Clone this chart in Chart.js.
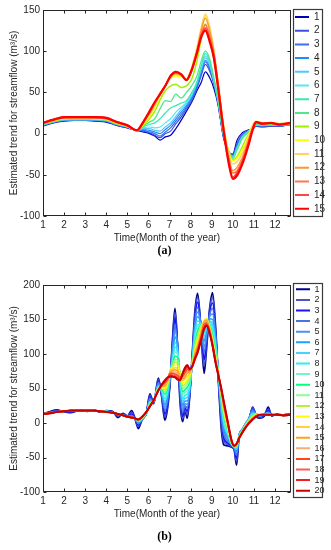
<!DOCTYPE html>
<html><head><meta charset="utf-8">
<script src="https://cdn.jsdelivr.net/npm/chart.js@4.4.1/dist/chart.umd.min.js"></script>
<style>
html,body{margin:0;padding:0;background:#fff;}
#wa{position:absolute;left:0;top:0;width:331px;height:262px;}
#wb{position:absolute;left:0;top:262px;width:331px;height:288px;}
canvas{display:block;}
</style></head><body>
<div id="wa"><canvas id="ca" width="331" height="262"></canvas></div>
<div id="wb"><canvas id="cb" width="331" height="288"></canvas></div>
<script>
// ---------- shared axis values ----------
const xTicks = [1,2,3,4,5,6,7,8,9,10,11,12];
const yTicksA = [-100,-50,0,50,100,150];
const yTicksB = [-100,-50,0,50,100,150,200];

// ---------- chart (a): 15 series ----------
const monthsA = [1,1.5,2,2.5,3,3.5,4,4.5,5,5.45,5.75,6.05,6.3,6.55,6.8,7.05,7.3,7.55,7.8,8.05,8.3,8.5,8.7,8.9,9.1,9.3,9.55,9.8,10.0,10.2,10.45,10.7,10.95,11.1,11.4,11.8,12.2,12.75];
const a1  = [9,13,15,16,16,15,14,10,7,4, 2,0,-3,-8,-4,-2,6,16,27,38,52,62,75, 68,55,35,-4,-22,-25,-8,1,4,6,9,8,9,9,11];
const a2  = [10,14,16,16,16,16,15,10,7,4, 3,1,-2,-5,0,3,12,20,30,40,55,70,84, 76,60,37,-3,-22,-26,-12,-1,3,6,9,9,9,9,11];
const a3  = [10,14,16,16,16,16,15,11,8,4, 4,2,0,-3,2,7,15,23,32,42,57,73,87, 79,62,38,-2,-21,-27,-14,-2,3,7,10,9,10,9,11];
const a4  = [10,14,16,17,17,16,15,11,8,4, 5,4,2,0,5,10,18,26,34,44,59,75,89, 81,63,39,-1,-21,-27,-16,-3,2,7,10,9,10,10,11];
const a5  = [11,14,17,17,17,17,16,11,8,4, 6,6,4,3,8,13,21,29,36,46,61,78,92, 84,64,40,0,-21,-28,-17,-4,2,7,10,10,10,10,11];
const a6  = [11,15,17,17,17,17,16,12,8,4, 7,8,7,8,13,18,26,32,38,48,63,80,94, 86,65,40,0,-21,-29,-18,-4,2,7,11,10,10,10,12];
const a7  = [11,15,17,18,18,17,16,12,8,4, 8,11,13,18,25,31,34,37,40,50,62,82,97, 88,66,41,1,-21,-30,-19,-5,1,7,11,10,10,10,12];
const a8  = [11,15,18,18,18,18,17,12,9,4, 9,14,18,30,40,39,48,43,50,58,70,88,100, 91,68,42,1,-21,-30,-20,-6,1,8,12,11,11,10,12];
const a9  = [12,15,18,18,18,18,17,12,9,4, 10,18,27,41,52,58,60,56,58,66,88,114,133, 116,92,57,8,-22,-32,-28,-16,-3,10,14,12,12,11,12];
const a10 = [12,16,18,19,19,18,17,13,9,4, 11,21,32,46,58,67,70,69,66,80,104,126,143, 128,100,62,12,-22,-33,-30,-20,-5,11,15,13,13,12,13];
const a11 = [12,16,19,19,19,19,18,13,9,4, 12,23,34,47,58,68,72,70,66,80,104,128,145, 130,102,63,12,-24,-37,-34,-24,-7,10,15,13,13,12,13];
const a12 = [12,16,19,19,19,19,18,13,9,4, 13,25,36,48,58,69,73,71,65,78,101,125,140, 125,99,61,10,-27,-45,-41,-29,-11,8,14,13,13,12,13];
const a13 = [13,17,19,20,20,19,18,14,10,4, 13,26,37,48,58,69,74,72,65,77,99,121,132, 118,96,59,9,-30,-48,-45,-32,-13,7,14,12,13,11,13];
const a14 = [13,17,20,20,20,20,19,14,10,4, 14,26,38,48,58,70,75,72,65,77,98,119,128, 114,94,58,7,-33,-53,-48,-35,-16,6,14,12,13,11,13];
const a15 = [13,17,20,20,20,20,19,14,10,4, 14,27,38,48,58,70,75,72,65,77,98,117,125, 112,92,56,6,-35,-55,-51,-37,-18,5,14,12,13,11,13];
const seriesA = [a1,a2,a3,a4,a5,a6,a7,a8,a9,a10,a11,a12,a13,a14,a15];
const colorsA = ['#0000b4','#3c50dc','#3c6ef0','#1e8cff','#50c8ff','#5ae6f0','#3ce6b4','#50e68c','#a0f000','#ffff00','#ffd264','#ff9632','#ff7850','#ff4646','#ff0000'];

// ---------- chart (b): 20 series ----------
const monthsB = [1,1.3,1.65,2,2.3,2.7,3.1,3.4,3.7,4.0,4.3,4.55,4.8,5.0,5.2,5.35,5.52,5.7,5.9,6.07,6.25,6.47,6.62,6.78,6.9,7.03,7.15,7.26,7.38,7.5,7.62,7.73,7.84,7.96,8.08,8.2,8.33,8.48,8.64,8.76,8.9,9.04,9.18,9.32,9.46,9.58,9.76,9.94,10.06,10.18,10.3,10.45,10.6,10.75,10.94,11.13,11.3,11.5,11.68,11.85,12.1,12.4,12.75];
const b1  = [13,16,19,16,15,18,17,19,16,18,17,8,14,10,18,8, -8,5,14,42,28,65,40,4,20,60,125,166,110,30,2,18,7,40,100,160,188,140,72,110,165,189,140,60,-10,-32,-33,-35,-38,-61,-20,-13,-5,0,23, 9,7,10,23,10,13,11,12];
const b2  = [13,15,18,16,16,18,17,18,16,17,16,10,13,10,15,7, -5,5,14,40,29,63,41,9,24,62,122,160,112,36,6,20,12,42,98,155,182,142,82,115,163,182,136,62,-4,-27,-31,-34,-37,-56,-18,-11,-3,3,22, 10,8,12,20,11,12,12,13];
const b3  = [13,15,17,17,16,18,18,18,17,17,16,11,13,10,13,7, -3,5,14,38,30,61,42,13,27,63,117,152,113,42,10,22,17,44,96,150,175,143,92,120,160,174,132,64,2,-22,-29,-33,-36,-51,-17,-10,-2,5,20, 11,9,13,18,11,12,12,13];
const b4  = [13,15,17,17,17,18,18,18,17,17,16,12,12,10,11,7, -1,5,14,36,30,59,44,18,31,64,112,143,112,48,15,25,22,46,94,145,168,144,102,125,157,166,128,66,8,-17,-26,-32,-36,-47,-17,-9,-1,6,19, 12,10,13,16,12,12,12,13];
const b5  = [13,15,16,17,17,18,18,18,17,17,15,12,12,9,10,7, 0,5,14,34,31,57,45,23,35,66,106,134,111,54,20,28,27,48,92,140,161,145,110,130,154,158,124,68,14,-12,-23,-32,-35,-43,-17,-9,-1,6,17, 13,10,13,15,12,12,12,12];
const b6  = [13,14,16,17,17,18,18,18,17,17,15,13,11,9,9,7, 1,6,14,32,31,55,46,27,38,68,100,125,109,58,25,32,32,50,90,135,154,145,118,135,151,150,120,70,19,-7,-20,-31,-35,-40,-18,-9,-2,5,16, 13,11,13,14,12,12,11,12];
const b7  = [13,14,16,17,17,18,18,18,17,17,15,13,11,9,9,7, 2,6,14,31,32,54,47,31,42,70,96,117,106,62,30,36,37,52,89,130,148,145,125,139,148,143,116,71,24,-3,-17,-31,-35,-38,-18,-10,-2,5,14, 13,11,13,14,12,12,11,12];
const b8  = [13,14,16,17,17,18,18,18,17,17,15,13,11,9,9,7, 3,6,15,30,32,53,48,35,45,72,92,110,103,66,35,40,42,55,88,125,142,144,131,143,146,137,112,72,28,1,-15,-30,-34,-36,-19,-10,-3,4,13, 13,11,13,13,12,12,11,12];
const b9  = [13,14,16,17,17,18,18,18,17,17,15,13,11,9,9,7, 3,7,15,29,32,52,49,39,48,74,89,103,99,68,40,44,47,58,87,120,137,143,137,146,144,132,108,73,32,5,-13,-30,-34,-35,-19,-11,-3,4,12, 13,11,13,13,12,12,11,12];
const b10 = [13,14,16,17,18,18,18,18,17,16,15,13,11,9,8,7, 4,7,15,28,32,51,50,42,50,75,86,97,95,70,45,48,52,61,86,116,132,142,141,148,142,128,104,73,35,9,-11,-29,-34,-34,-20,-11,-4,3,11, 12,12,13,13,12,12,11,12];
const b11 = [13,14,16,17,18,18,18,18,17,16,15,13,11,9,8,7, 4,7,15,27,33,50,51,45,53,76,84,92,91,71,50,52,56,64,85,112,127,140,145,150,140,124,101,73,38,12,-9,-29,-34,-33,-20,-12,-4,3,10, 12,12,12,13,12,12,11,12];
const b12 = [13,14,16,17,18,18,18,18,17,16,15,13,11,9,8,7, 4,8,15,27,33,50,52,48,55,76,82,88,87,71,54,56,60,67,85,108,123,138,147,151,139,121,98,72,40,15,-7,-28,-34,-33,-20,-12,-5,2,9, 12,12,12,13,12,12,11,12];
const b13 = [13,14,16,17,18,18,18,18,17,16,15,13,11,9,8,7, 5,8,15,26,33,49,52,50,57,76,80,84,83,71,58,60,64,70,84,105,119,135,148,151,138,119,96,72,42,18,-5,-28,-34,-32,-21,-12,-5,2,8, 12,12,12,12,12,12,11,12];
const b14 = [13,14,16,17,18,18,18,18,17,16,15,13,11,9,8,7, 5,8,15,26,33,49,53,53,59,75,78,80,79,70,61,64,68,72,84,102,115,132,148,150,137,117,94,71,44,20,-3,-27,-33,-32,-21,-13,-5,1,8, 11,12,12,12,12,12,11,12];
const b15 = [13,14,16,17,18,18,18,18,17,16,15,13,11,9,8,7, 5,8,16,25,33,48,53,54,60,74,76,77,75,69,64,67,72,74,83,100,112,129,147,149,136,116,92,71,45,22,-2,-27,-33,-31,-21,-13,-6,1,7, 11,12,12,12,12,12,11,12];
const b16 = [13,14,16,17,18,18,18,18,17,16,15,13,11,9,8,7, 5,9,16,25,33,48,54,56,61,73,74,74,72,68,66,70,75,75,83,98,109,126,145,147,135,115,91,70,46,24,-1,-26,-33,-31,-21,-13,-6,0,7, 11,12,12,12,12,12,11,12];
const b17 = [13,14,16,17,18,18,18,18,17,16,15,13,11,9,8,7, 5,9,16,25,33,48,54,58,63,72,72,71,69,66,68,73,78,76,83,96,107,124,143,145,134,114,90,70,47,26,0,-26,-33,-31,-22,-13,-6,0,6, 11,12,12,12,12,12,11,12];
const b18 = [13,14,16,17,18,18,18,18,17,16,15,13,11,9,8,7, 5,9,16,24,33,47,55,59,64,70,70,69,67,65,70,76,80,77,82,94,105,122,140,144,133,113,89,69,48,27,1,-26,-33,-30,-22,-14,-6,0,6, 10,12,12,12,12,12,11,12];
const b19 = [13,14,16,17,18,18,18,18,17,16,15,13,11,9,8,7, 5,9,16,24,33,47,55,60,65,69,68,67,65,63,71,78,82,78,82,93,103,120,138,142,131,112,88,69,49,29,1,-25,-33,-30,-22,-14,-7,-1,5, 10,12,12,12,12,12,11,12];
const b20 = [13,14,16,17,18,18,18,18,17,16,15,13,11,9,8,7, 5,9,16,24,33,47,55,62,66,67,67,66,63,62,72,80,84,78,82,92,102,118,136,141,130,112,88,68,49,30,2,-25,-33,-30,-22,-14,-7,-1,5, 10,12,12,12,12,12,11,12];
const seriesB = [b1,b2,b3,b4,b5,b6,b7,b8,b9,b10,b11,b12,b13,b14,b15,b16,b17,b18,b19,b20];
const colorsB = ['#00008b','#4655d2','#1414ff','#4673e6','#4b91f0','#1ea0ff','#46d2ff','#28f0f5','#78f0d2','#00ff80','#8cff8c','#b4f03c','#ffff00','#ffd23c','#ffa01e','#ffaa6e','#ff4614','#ff5a5a','#f01e1e','#c80000'];

const xTitle = 'Time(Month of the year)';
const yTitle = 'Estimated trend for streamflow (m\u00B3/s)';

// ---------- plugin: MATLAB-like box, inward ticks, framed legend ----------
const framePlugin = {
  id: 'frame',
  afterLayout(chart, args, o) {
    const lg = chart.legend; if (!lg) return;
    const ca = chart.chartArea;
    lg.left = ca.right + o.dx; lg.right = lg.left + lg.width;
    lg.top = o.legTop; lg.bottom = chart.height; lg.height = lg.bottom - lg.top;
  },
  afterDraw(chart, args, o) {
    const {ctx, chartArea: ca, scales} = chart;
    const L = Math.round(ca.left) + 0.5, R = Math.round(ca.right) - 0.5;
    const T = Math.round(ca.top) + 0.5, B = Math.round(ca.bottom) - 0.5;
    ctx.save();
    ctx.strokeStyle = '#262626'; ctx.lineWidth = 1;
    ctx.strokeRect(L, T, R - L, B - T);
    ctx.beginPath();
    const tl = 3;
    scales.x.ticks.forEach(t => {
      const px = Math.round(scales.x.getPixelForValue(t.value)) + 0.5;
      ctx.moveTo(px, B); ctx.lineTo(px, B - tl);
      ctx.moveTo(px, T); ctx.lineTo(px, T + tl);
    });
    scales.y.ticks.forEach(t => {
      const py = Math.round(scales.y.getPixelForValue(t.value)) + 0.5;
      ctx.moveTo(L, py); ctx.lineTo(L + tl, py);
      ctx.moveTo(R, py); ctx.lineTo(R - tl, py);
    });
    ctx.stroke();
    ctx.strokeStyle = '#3a3a3a'; ctx.lineWidth = 1.2;
    ctx.strokeRect(o.boxLeft + 0.5, o.boxTop + 0.5, o.boxRight - o.boxLeft, o.boxBottom - o.boxTop);
    ctx.restore();
  }
};

Chart.defaults.font.family = "'Liberation Sans', Arial, sans-serif";
Chart.defaults.color = '#262626';

function build(canvasId, months, series, colors, yTicks, cfg) {
  const n = series.length;
  const datasets = series.map((vals, i) => ({
    label: String(i + 1),
    data: vals.map((v, j) => ({x: months[j], y: v})),
    borderColor: colors[i],
    backgroundColor: colors[i],
    borderWidth: cfg.widths[i],
    pointRadius: 0, pointHoverRadius: 0, pointBorderWidth: 2,
    cubicInterpolationMode: 'monotone',
    fill: false,
    order: n - i
  }));
  return new Chart(document.getElementById(canvasId), {
    type: 'line',
    data: {datasets},
    options: {
      responsive: false, animation: false, devicePixelRatio: 1, events: [],
      layout: {padding: {top: cfg.padTop, right: 2, left: 0, bottom: 0}},
      scales: {
        x: {
          type: 'linear', min: 1, max: 12.76,
          afterBuildTicks: s => { s.ticks = xTicks.map(v => ({value: v})); },
          afterFit: s => { s.height = 28; },
          grid: {display: false, drawTicks: false}, border: {display: false},
          ticks: {padding: 3, autoSkip: false, maxRotation: 0, font: {size: 10}, color: '#262626'},
          title: {display: true, text: xTitle, font: {size: 10}, color: '#262626', padding: {top: 1, bottom: 0}}
        },
        y: {
          type: 'linear', min: yTicks[0], max: yTicks[yTicks.length - 1],
          afterBuildTicks: s => { s.ticks = yTicks.map(v => ({value: v})); },
          afterFit: s => { s.width = 43; },
          grid: {display: false, drawTicks: false}, border: {display: false},
          ticks: {padding: 3, font: {size: 10}, color: '#262626'},
          title: {display: true, text: yTitle, font: {size: 10}, color: '#262626', padding: {top: 8, bottom: 0}}
        }
      },
      plugins: {
        tooltip: {enabled: false},
        legend: {
          display: true, position: 'right', align: 'start', maxWidth: 38,
          labels: {
            usePointStyle: true, pointStyle: 'line', pointStyleWidth: 14,
            font: {size: cfg.legFont}, color: '#262626', padding: cfg.legPad,
            sort: (p, q) => p.datasetIndex - q.datasetIndex
          }
        },
        title: {
          display: true, position: 'bottom', text: cfg.label,
          font: {family: "'Liberation Serif', 'DejaVu Serif', serif", size: 12, weight: 'bold'},
          color: '#000', padding: {top: cfg.labPadTop, bottom: cfg.labPadBottom}
        },
        frame: cfg.frame
      }
    },
    plugins: [framePlugin]
  });
}

build('ca', monthsA, seriesA, colorsA, yTicksA, {
  widths: [1.2,1.2,1.2,1.2,1.2,1.2,1.2,1.3,1.5,1.5,1.5,1.5,1.6,2,2.2],
  padTop: 10, legFont: 10, legPad: 3.7, label: '(a)', labPadTop: 0, labPadBottom: 3.6,
  frame: {dx: 0.3, legTop: 8.3, boxLeft: 293, boxRight: 322, boxTop: 9, boxBottom: 216}
});
build('cb', monthsB, seriesB, colorsB, yTicksB, {
  widths: [1.8,1.6,1.6,1.6,1.5,1.5,1.5,1.5,1.5,1.5,1.5,1.5,1.5,1.5,1.5,1.5,1.6,1.6,1.8,2],
  padTop: 23, legFont: 9, legPad: 1.6, label: '(b)', labPadTop: 9.8, labPadBottom: 5.8,
  frame: {dx: 3.4, legTop: 21.2, boxLeft: 293, boxRight: 322, boxTop: 21, boxBottom: 235}
});
</script>
</body></html>
